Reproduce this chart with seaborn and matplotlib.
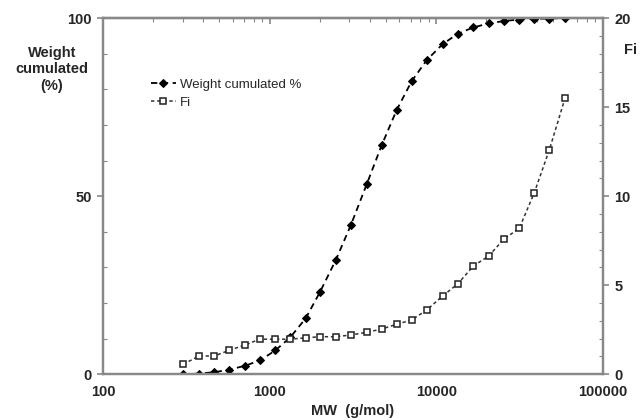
import seaborn as sns
import pandas as pd
import numpy as np
import matplotlib
matplotlib.use('Agg')
import matplotlib.pyplot as plt
from matplotlib.ticker import LogLocator, MultipleLocator, NullFormatter, FixedLocator

# data
mw = [303, 377, 466, 573, 711, 875, 1081, 1331, 1644, 2004, 2489, 3076, 3818,
      4698, 5781, 7113, 8752, 10913, 13428, 16672, 20603, 25468, 31463, 38715,
      47638, 59162]
weight_cum = [0.0, 0.2, 0.6, 1.3, 2.4, 3.9, 6.7, 10.4, 15.7, 23.1, 32.0, 42.0,
              53.3, 64.3, 74.2, 82.3, 88.2, 92.7, 95.6, 97.4, 98.5, 99.2, 99.6,
              99.8, 99.9, 100.0]
fi = [0.56, 1.03, 1.03, 1.35, 1.65, 1.97, 1.97, 1.97, 2.05, 2.11, 2.11, 2.21,
      2.36, 2.54, 2.81, 3.05, 3.61, 4.40, 5.07, 6.08, 6.64, 7.60, 8.20, 10.2,
      12.6, 15.5]

df = pd.DataFrame({'MW': mw, 'Weight cumulated %': weight_cum, 'Fi': fi})

sns.set_style('white')
plt.rcParams['font.family'] = ['Liberation Sans', 'DejaVu Sans']
plt.rcParams['font.weight'] = 'bold'

spine_col = '#888888'
fig = plt.figure(figsize=(6.41, 4.20), dpi=100)
ax = fig.add_axes([0.1607, 0.1088, 0.78, 0.848])
ax2 = ax.twinx()

sns.lineplot(data=df, x='MW', y='Weight cumulated %', ax=ax, color='black',
             marker='D', markersize=4, markeredgecolor='black',
             linestyle=(0, (3.5, 2.5)), linewidth=1.3,
             label='Weight cumulated %', legend=False)
sns.lineplot(data=df, x='MW', y='Fi', ax=ax2, color='#333333',
             marker='s', markersize=4.5, markerfacecolor='white',
             markeredgecolor='#222222', markeredgewidth=1.1,
             linestyle=(0, (2.2, 1.8)), linewidth=1.1, label='Fi', legend=False)

ax.set_xscale('log')
ax.set_xlim(100, 100000)
ax.set_ylim(0, 100)
ax2.set_ylim(0, 20)

ax.xaxis.set_major_locator(FixedLocator([100, 1000, 10000, 100000]))
ax.set_xticklabels(['100', '1000', '10000', '100000'])
ax.xaxis.set_minor_locator(LogLocator(base=10, subs=np.arange(2, 10)))
ax.xaxis.set_minor_formatter(NullFormatter())
ax.yaxis.set_major_locator(MultipleLocator(50))
ax.yaxis.set_minor_locator(MultipleLocator(10))
ax2.yaxis.set_major_locator(MultipleLocator(5))
ax2.yaxis.set_minor_locator(MultipleLocator(1))

for a in (ax, ax2):
    for s in a.spines.values():
        s.set_color(spine_col)
        s.set_linewidth(1.6)
        s.set_visible(True)
ax.tick_params(which='major', direction='out', length=4, width=1.2, color=spine_col,
               labelsize=10.5, pad=4)
ax.tick_params(which='minor', direction='in', length=3, width=0.8, color=spine_col)
ax2.tick_params(which='major', direction='out', length=4, width=1.2, color=spine_col,
                labelsize=10.5, pad=4)
ax2.tick_params(which='minor', direction='in', length=3, width=0.8, color=spine_col)

# top axis: ticks only, pointing inward
top = ax.secondary_xaxis('top')
top.xaxis.set_major_locator(FixedLocator([100, 1000, 10000, 100000]))
top.xaxis.set_minor_locator(LogLocator(base=10, subs=np.arange(2, 10)))
top.xaxis.set_major_formatter(NullFormatter())
top.xaxis.set_minor_formatter(NullFormatter())
top.tick_params(which='major', direction='in', length=4, width=1.2, color=spine_col)
top.tick_params(which='minor', direction='in', length=3, width=0.8, color=spine_col)
top.spines['top'].set_color(spine_col)
top.spines['top'].set_linewidth(1.6)

for lab in ax.get_xticklabels() + ax.get_yticklabels() + ax2.get_yticklabels():
    lab.set_fontweight('bold')

ax.set_xlabel('MW  (g/mol)', fontsize=10.5, fontweight='bold', labelpad=3)
ax.set_ylabel('')
ax2.set_ylabel('')
fig.text(0.081, 0.835, 'Weight\ncumulated\n(%)', ha='center', va='center',
         fontsize=10.5, fontweight='bold', linespacing=1.25)
fig.text(0.984, 0.881, 'Fi', ha='center', va='center', fontsize=10.5, fontweight='bold')

h1, l1 = ax.get_legend_handles_labels()
h2, l2 = ax2.get_legend_handles_labels()
leg = ax.legend(h1 + h2, l1 + l2, loc='upper left', bbox_to_anchor=(0.085, 0.845),
                frameon=False, fontsize=9.5, handlelength=1.9, handletextpad=0.3,
                labelspacing=0.45, borderaxespad=0)
for t in leg.get_texts():
    t.set_fontweight('normal')

fig.savefig('out.png', dpi=100)
